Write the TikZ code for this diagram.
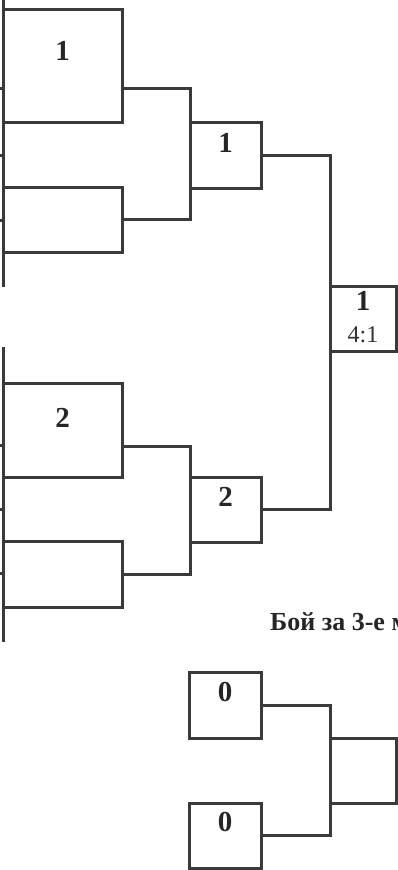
\documentclass[tikz,border=0pt]{standalone}
\usepackage{fontspec}
\setmainfont{Liberation Serif}
\usepackage{tikz}
\usetikzlibrary{positioning}
\definecolor{inkGray}{RGB}{58,58,58}

\begin{document}
\begin{tikzpicture}[
    x=1pt, y=-1pt,
    box/.style={draw=inkGray, line width=3pt, anchor=north west, inner sep=0pt,
                outer sep=0pt},
    wire/.style={draw=inkGray, line width=3pt, line join=miter, line cap=rect},
    num/.style={font=\fontsize{29}{31}\selectfont\bfseries, text=black!85, inner sep=0pt},
    score/.style={font=\fontsize{24}{26}\selectfont, text=black!80, inner sep=0pt}
]
    \useasboundingbox (0,0) rectangle (398,870);

    % first round, upper half
    \node[box, minimum width=119pt, minimum height=113pt] (ra) at (3,9) {};
    \node[box, minimum width=119pt, minimum height=65pt] (rb) at (3,187) {};
    % first round, lower half
    \node[box, minimum width=119pt, minimum height=94pt] (rc) at (3,383) {};
    \node[box, minimum width=119pt, minimum height=66pt] (rd) at (3,541) {};
    % semi finals
    \node[box, minimum width=71pt, minimum height=66pt] (sa) at (190,122) {};
    \node[box, minimum width=71pt, minimum height=65pt] (sb) at (190,477) {};
    % final
    \node[box, minimum width=66pt, minimum height=65pt] (fin) at (330,286) {};
    % bout for third place
    \node[box, minimum width=72pt, minimum height=66pt] (ta) at (189,672) {};
    \node[box, minimum width=72pt, minimum height=65pt] (tb) at (189,803) {};
    \node[box, minimum width=66pt, minimum height=65pt] (tw) at (330,738) {};

    % left bars (earlier rounds, cut off)
    \coordinate (lt) at (3,-5);
    \coordinate (lb) at (3,285);
    \coordinate (mt) at (3,348);
    \coordinate (mb) at (3,640);
    \draw[wire] (lt) -- (lb);
    \draw[wire] (mt) -- (mb);
    \foreach \y in {88,155,220,445,509,573}
        \draw[wire, line cap=butt] (-4,\y) -- (3,\y);

    % junctions
    \coordinate (ja) at (190,88);
    \coordinate (jb) at (190,446);
    \coordinate (jf) at (330,155);
    \coordinate (jt) at (330,705);

    \draw[wire] (ra.east |- ja) -- (ja) -- (ja |- rb.east) -- (rb.east);
    \draw[wire] (rc.east |- jb) -- (jb) -- (jb |- rd.east) -- (rd.east);
    \draw[wire] (sa.east) -- (sa.east -| jf) -- (jf |- sb.east) -- (sb.east);
    \draw[wire] (ta.east) -- (ta.east -| jt) -- (jt |- tb.east) -- (tb.east);

    % results
    \node[num] (na) at ([yshift=-42pt]ra.north) {1};
    \node[num] (nc) at ([yshift=-35pt]rc.north) {2};
    \node[num] (nsa) at ([yshift=-20.5pt]sa.north) {1};
    \node[num] (nsb) at ([yshift=-20pt]sb.north) {2};
    \node[num] (nf) at ([yshift=-15pt]fin.north) {1};
    \node[score] (sf) at ([yshift=-49pt]fin.north) {4:1};
    \node[num] (nta) at ([yshift=-20pt]ta.north) {0};
    \node[num] (ntb) at ([yshift=-19pt]tb.north) {0};

    \node[anchor=base west, inner sep=0pt, font=\fontsize{26}{28}\selectfont\bfseries,
          text=black!85] (third) at (270,630) {Бой за 3-е место};
\end{tikzpicture}
\end{document}
